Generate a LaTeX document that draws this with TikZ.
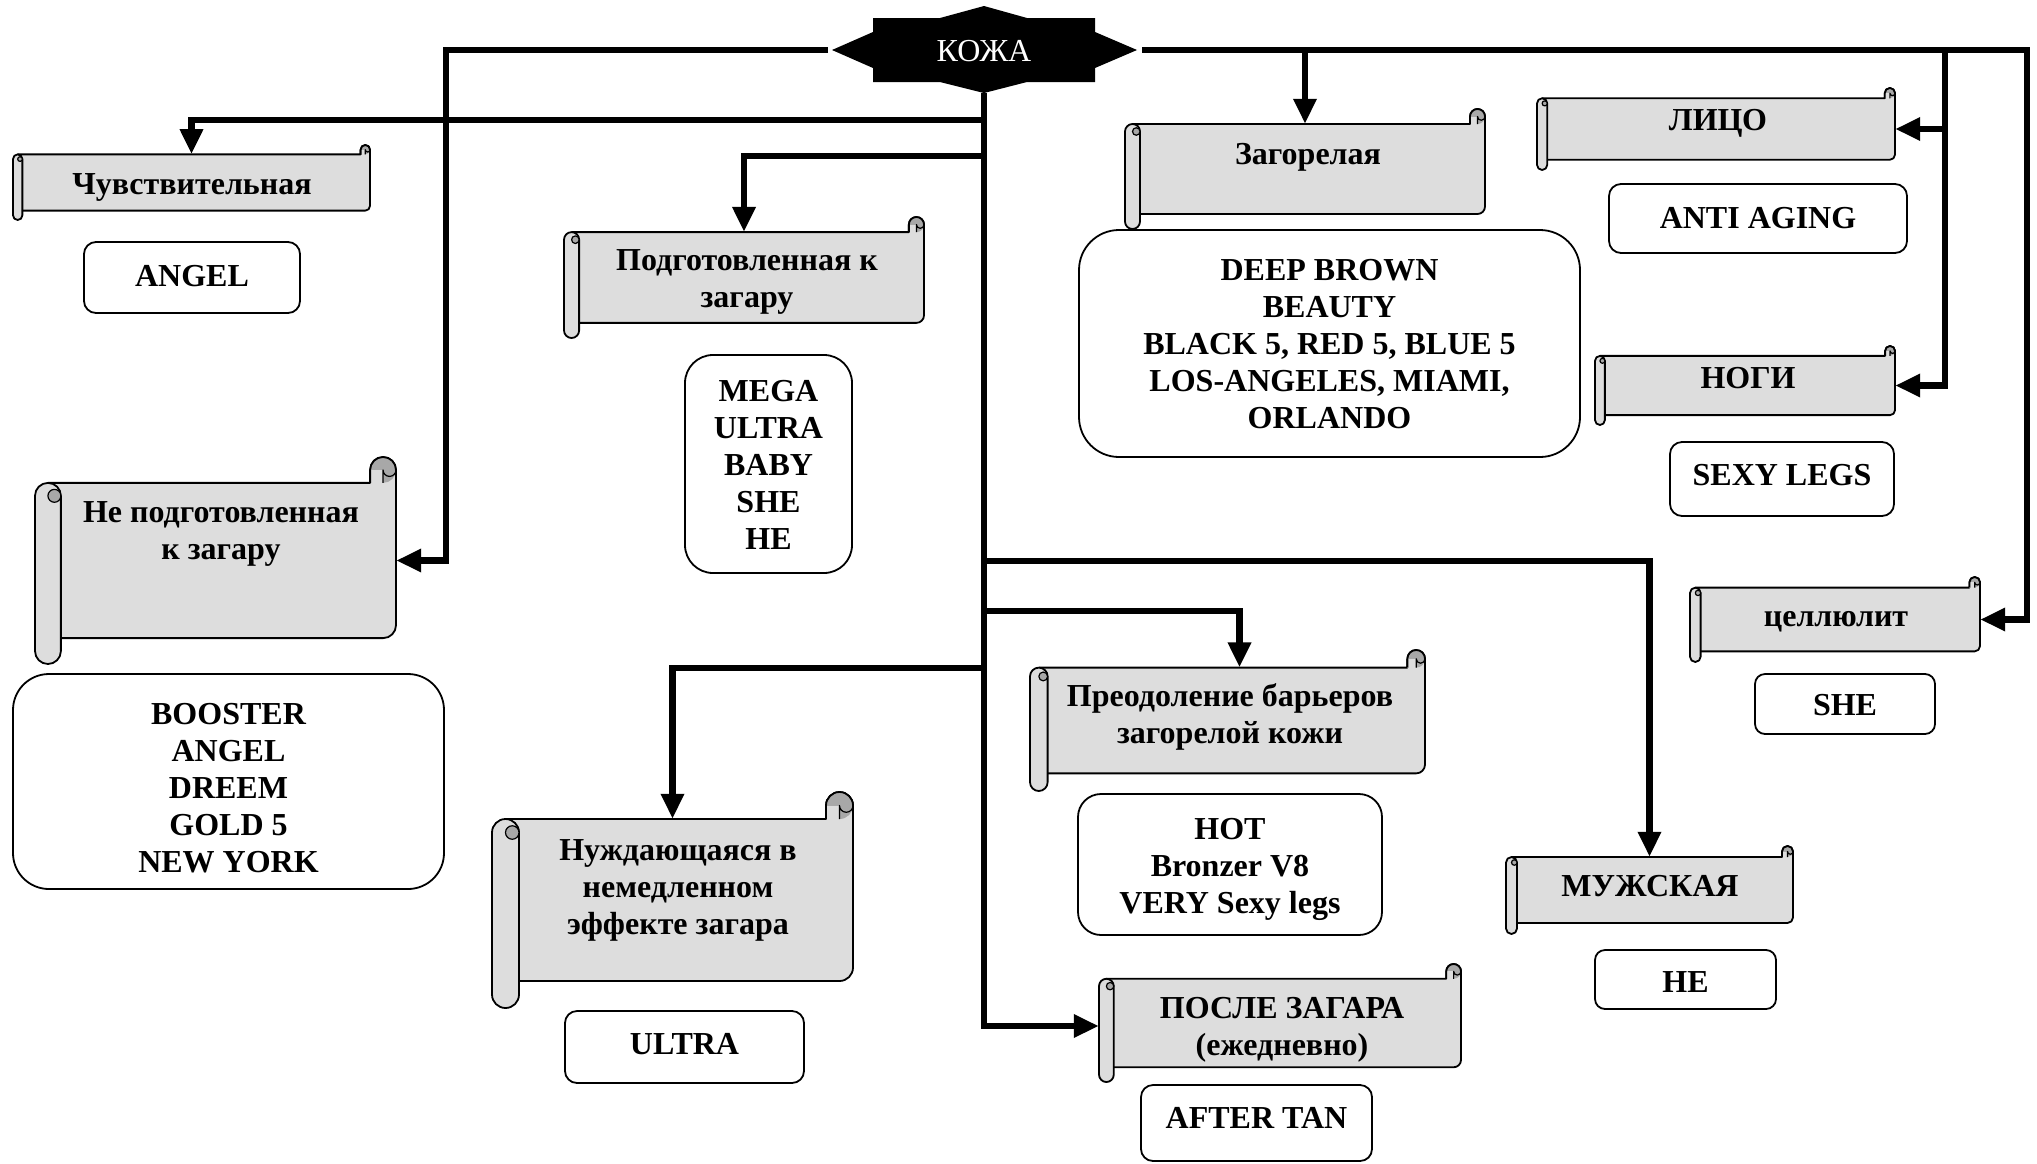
\documentclass[tikz,border=0pt]{standalone}
\usepackage{fontspec}
\setmainfont{Liberation Serif}
\usetikzlibrary{arrows.meta}
\definecolor{panel}{HTML}{DDDDDD}
\definecolor{curlc}{HTML}{A8A8A8}
\newcommand{\lbfont}{\fontsize{32}{37}\selectfont\bfseries}
\tikzset{
  scrl/.style={draw=black, line width=1.8pt, line join=round},
  conn/.style={draw=black, line width=6.5pt},
  arr/.style={-{Triangle[length=25pt,width=22pt]}},
  rbox/.style={draw=black, line width=1.8pt, fill=white, inner sep=0pt},
  lbl/.style={inner sep=0pt, align=center, font=\lbfont},
}
% #1 L, #2 T, #3 R, #4 B, #5 name
\newcommand{\scrollbox}[5]{%
  \pgfmathsetmacro{\sL}{#1}\pgfmathsetmacro{\sT}{#2}%
  \pgfmathsetmacro{\sR}{#3}\pgfmathsetmacro{\sB}{#4}%
  \pgfmathsetmacro{\sc}{min(#3-#1,#4-#2)/8}%
  \pgfmathsetmacro{\sh}{\sc/2}\pgfmathsetmacro{\sq}{\sc/4}%
  \pgfmathsetmacro{\sw}{#3-#1}\pgfmathsetmacro{\sv}{#4-#2-2*\sc}%
  \draw[scrl, fill=panel] (\sL+\sh,\sT+\sc) -- (\sR-\sc,\sT+\sc) -- (\sR-\sc,\sT+\sh)
     arc[start angle=180,end angle=0,radius=\sh pt] -- (\sR,\sB-\sc-\sh)
     arc[start angle=0,end angle=-90,radius=\sh pt] -- (\sL+\sh,\sB-\sc) -- cycle;
  \fill[curlc] (\sR-\sh,\sT+\sh) circle[radius=\sh pt];
  \fill[panel] (\sR-\sc,\sT+\sh) rectangle (\sR-\sh,\sT+\sc);
  \draw[scrl] (\sR-\sc,\sT+\sc) -- (\sR-\sc,\sT+\sh) arc[start angle=180,end angle=0,radius=\sh pt] -- (\sR,\sT+\sc);
  \draw[scrl, line width=1.2pt] (\sR-\sh,\sT+\sc) -- (\sR-\sh,\sT+\sh) arc[start angle=180,end angle=360,radius=\sq pt];
  \draw[scrl, fill=panel] (\sL,\sT+1.5*\sc) arc[start angle=180,end angle=0,radius=\sh pt]
     -- (\sL+\sc,\sB-\sh) arc[start angle=0,end angle=-180,radius=\sh pt] -- cycle;
  \draw[scrl, fill=curlc, line width=1.2pt] (\sL+0.75*\sc,\sT+1.5*\sc) circle[radius=\sq pt];
  \node[inner sep=0pt, minimum width=\sw pt, minimum height=\sv pt] (#5) at ({(\sL+\sR)/2},{(\sT+\sB)/2}) {};
}
\begin{document}
\begin{tikzpicture}[x=1pt,y=-1pt]
\useasboundingbox (0,0) rectangle (2037,1163);
\fill[white] (0,0) rectangle (2037,1163);

% central star
\fill[black] (832,50) -- (873,32) -- (873,18) -- (940,18) -- (984,6) -- (1027,18) -- (1095,18) -- (1095,32)
  -- (1137,50) -- (1095,68) -- (1095,82) -- (1027,82) -- (984,93) -- (940,82) -- (873,82) -- (873,68) -- cycle;
\node[inner sep=0pt, text=white, font=\fontsize{32}{37}\selectfont] (koja) at (984,51) {КОЖА};
\coordinate (kl) at (832,50);
\coordinate (kr) at (1137,50);
\coordinate (kb) at (984,93);

% scrolls
\scrollbox{13}{145}{370}{220}{chuv}
\node[lbl] (chuvT) at (192,187) {Чувствительная};
\scrollbox{564}{217}{924}{338}{podg}
\node[lbl] (podgT) at (747,282) {Подготовленная к\\загару};
\scrollbox{35}{457}{396}{664}{nepod}
\node[lbl] (nepodT) at (221,534) {Не подготовленная\\к загару};
\scrollbox{1125}{109}{1485}{229}{zag}
\node[lbl] (zagT) at (1308,157) {Загорелая};
\scrollbox{1537}{88}{1895}{170}{lico}
\node[lbl] (licoT) at (1718,123) {ЛИЦО};
\scrollbox{1595}{346}{1895}{425}{nogi}
\node[lbl] (nogiT) at (1748,378) {НОГИ};
\scrollbox{1690}{577}{1980}{662}{cell}
\node[lbl] (cellT) at (1836,622) {целлюлит};
\scrollbox{1030}{650}{1425}{791}{preod}
\node[lbl] (preodT) at (1230,717) {Преодоление барьеров\\загорелой кожи};
\scrollbox{492}{792}{853}{1008}{nuzh}
\node[lbl] (nuzhT) at (678,890) {Нуждающаяся в\\немедленном\\эффекте загара};
\scrollbox{1099}{964}{1461}{1082}{posle}
\node[lbl] (posleT) at (1282,1030) {ПОСЛЕ ЗАГАРА\\(ежедневно)};
\scrollbox{1506}{846}{1793}{934}{muzh}
\node[lbl] (muzhT) at (1650,886) {МУЖСКАЯ};

% rounded boxes
\node[rbox, minimum width=216pt, minimum height=71pt, rounded corners=12pt] (angel) at (192,277.5) {};
\node[lbl] (angelT) at (192,276) {ANGEL};
\node[rbox, minimum width=167pt, minimum height=218pt, rounded corners=28pt] (mega) at (768.5,464) {};
\node[lbl] (megaT) at (768.5,465) {MEGA\\ULTRA\\BABY\\SHE\\HE};
\node[rbox, minimum width=431pt, minimum height=215pt, rounded corners=36pt] (boost) at (228.5,781.5) {};
\node[lbl] (boostT) at (228.5,788) {BOOSTER\\ANGEL\\DREEM\\GOLD 5\\NEW YORK};
\node[rbox, minimum width=501pt, minimum height=227pt, rounded corners=40pt] (deep) at (1329.5,343.5) {};
\node[lbl] (deepT) at (1329.5,344) {DEEP BROWN\\BEAUTY\\BLACK 5, RED 5, BLUE 5\\LOS-ANGELES, MIAMI,\\ORLANDO};
\node[rbox, minimum width=298pt, minimum height=69pt, rounded corners=12pt] (anti) at (1758,218.5) {};
\node[lbl] (antiT) at (1758,218.5) {ANTI AGING};
\node[rbox, minimum width=224pt, minimum height=74pt, rounded corners=12pt] (sexy) at (1782,479) {};
\node[lbl] (sexyT) at (1782,475) {SEXY LEGS};
\node[rbox, minimum width=180pt, minimum height=60pt, rounded corners=10pt] (she) at (1845,704) {};
\node[lbl] (sheT) at (1845,705) {SHE};
\node[rbox, minimum width=304pt, minimum height=141pt, rounded corners=23pt] (hot) at (1230,864.5) {};
\node[lbl] (hotT) at (1230,869.5) {HOT\\Bronzer V8\\VERY Sexy legs};
\node[rbox, minimum width=239pt, minimum height=72pt, rounded corners=12pt] (ultra) at (684.5,1047) {};
\node[lbl] (ultraT) at (684.5,1044) {ULTRA};
\node[rbox, minimum width=231pt, minimum height=76pt, rounded corners=12pt] (after) at (1256.5,1123) {};
\node[lbl] (afterT) at (1256.5,1118) {AFTER TAN};
\node[rbox, minimum width=181pt, minimum height=59pt, rounded corners=10pt] (he) at (1685.5,979.5) {};
\node[lbl] (heT) at (1685.5,982) {HE};

% connectors
\coordinate (lb) at (446,50);
\coordinate (rb) at (2027,50);
\coordinate (rv) at (1945,50);
\draw[conn, arr, shorten <=4pt] (kl) -- (lb) |- (nepod.east);
\draw[conn, arr] (kb) |- ([yshift=-3pt]posle.west);
\draw[conn, arr] (984,120) -| (chuv.north);
\draw[conn, arr] (984,156) -| (podg.north);
\draw[conn, arr] (984,561) -| (muzh.north);
\draw[conn, arr] (984,611) -| ([xshift=12pt]preod.north);
\draw[conn, arr] (984,668) -| (nuzh.north);
\draw[conn, arr, shorten <=5pt] (kr) -- (rb) |- (cell.east);
\draw[conn, arr] (zag.north |- kr) -- (zag.north);
\draw[conn, arr] (rv) |- (nogi.east);
\draw[conn, arr] (rv |- lico.east) -- (lico.east);
\end{tikzpicture}
\end{document}
